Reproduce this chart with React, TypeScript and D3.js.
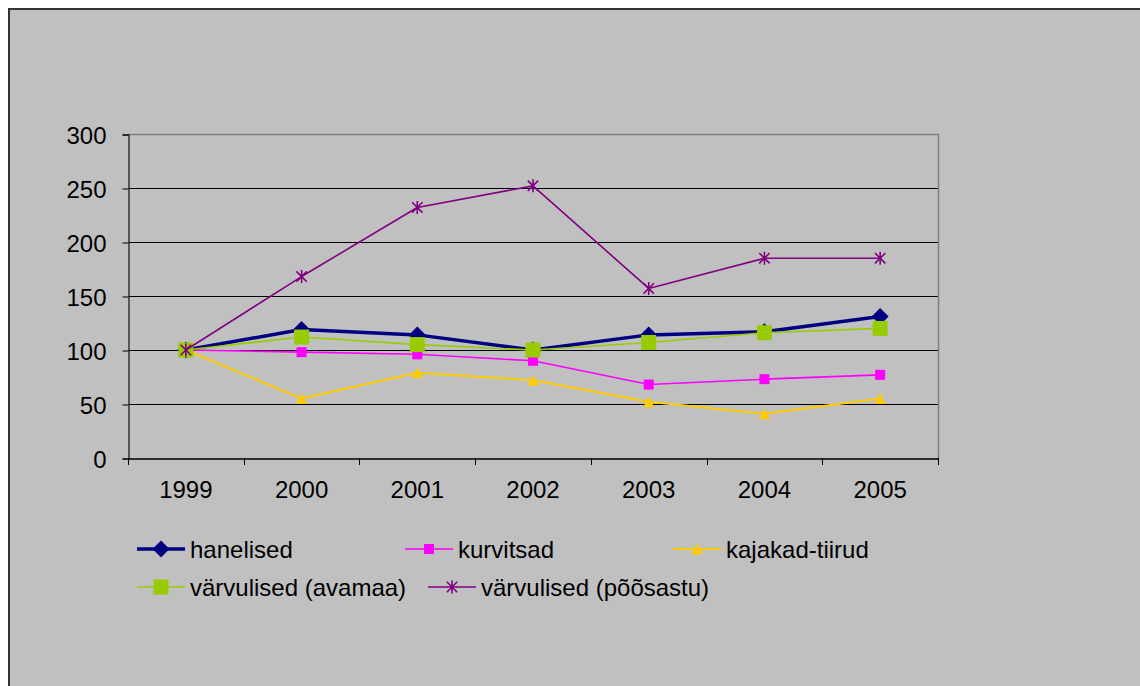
import { useEffect, useRef } from "react";
import * as d3 from "d3";

// years on the x axis
const years = ["1999", "2000", "2001", "2002", "2003", "2004", "2005"];
const yTicks = [0, 50, 100, 150, 200, 250, 300];

// index values, 1999 = 100
const hanelised = [100, 119, 114, 100, 114, 117, 131];
const kurvitsad = [100, 98, 96, 90, 68, 73, 77];
const kajakadTiirud = [100, 55, 79, 72, 52, 41, 55];
const varvulisedAvamaa = [100, 112, 105, 100, 107, 116, 120];
const varvulisedPoosastu = [100, 168, 232, 252, 157, 185, 185];

type MarkerKind = "diamond" | "square" | "triangle" | "bigsquare" | "star";

interface Series {
  name: string;
  values: number[];
  color: string;
  width: number;
  marker: MarkerKind;
}

const series: Series[] = [
  { name: "hanelised", values: hanelised, color: "#000080", width: 3.5, marker: "diamond" },
  { name: "kurvitsad", values: kurvitsad, color: "#FF00FF", width: 1.6, marker: "square" },
  { name: "kajakad-tiirud", values: kajakadTiirud, color: "#FFCC00", width: 2, marker: "triangle" },
  { name: "värvulised (avamaa)", values: varvulisedAvamaa, color: "#99CC00", width: 1.6, marker: "bigsquare" },
  { name: "värvulised (põõsastu)", values: varvulisedPoosastu, color: "#800080", width: 1.6, marker: "star" },
];

// legend slot positions (layout only)
const legendPos: [number, number][] = [
  [137, 549],
  [405, 549],
  [673, 549],
  [137, 587],
  [428, 587],
];

const W = 1140;
const H = 686;
const FONT = "'Liberation Sans', Arial, sans-serif";

function drawMarker(
  g: d3.Selection<SVGGElement, unknown, null, undefined>,
  kind: MarkerKind,
  cx: number,
  cy: number,
  color: string,
  scale = 1,
) {
  if (kind === "diamond") {
    const r = 8.5 * scale;
    g.append("path")
      .attr("d", `M${cx},${cy - r}L${cx + r},${cy}L${cx},${cy + r}L${cx - r},${cy}Z`)
      .attr("fill", color);
  } else if (kind === "square" || kind === "bigsquare") {
    const s = (kind === "square" ? 10 : 15) * scale;
    g.append("rect")
      .attr("x", cx - s / 2)
      .attr("y", cy - s / 2)
      .attr("width", s)
      .attr("height", s)
      .attr("fill", color);
  } else if (kind === "triangle") {
    const w = 11 * scale;
    const h = 11 * scale;
    g.append("path")
      .attr("d", `M${cx},${cy - h / 2}L${cx + w / 2},${cy + h / 2}L${cx - w / 2},${cy + h / 2}Z`)
      .attr("fill", color);
  } else {
    const r = 6.5 * scale;
    const d = r * 0.8;
    g.append("path")
      .attr("d", `M${cx - d},${cy - d}L${cx + d},${cy + d}M${cx - d},${cy + d}L${cx + d},${cy - d}M${cx},${cy - r}L${cx},${cy + r}`)
      .attr("stroke", color)
      .attr("stroke-width", 1.6)
      .attr("fill", "none");
  }
}

export default function App() {
  const svgRef = useRef<SVGSVGElement>(null);

  useEffect(() => {
    if (!svgRef.current) return;
    const svg = d3.select(svgRef.current);
    svg.selectAll("*").remove();

    // chart frame, runs off the right and bottom of the page
    svg.append("rect").attr("width", W).attr("height", H).attr("fill", "#fff");
    svg
      .append("rect")
      .attr("x", 9)
      .attr("y", 9)
      .attr("width", W + 20)
      .attr("height", H + 20)
      .attr("fill", "#C0C0C0")
      .attr("stroke", "#333")
      .attr("stroke-width", 2);

    const left = 128;
    const right = 938;
    const top = 134;
    const bottom = 458;

    const x = d3.scaleBand().domain(years).range([left, right]);
    const y = d3.scaleLinear().domain([0, 300]).range([bottom, top]);

    const g = svg.append("g");

    // grid lines
    g.selectAll(".grid")
      .data(yTicks.filter((t) => t > 0))
      .enter()
      .append("line")
      .attr("x1", left)
      .attr("x2", right)
      .attr("y1", (d) => Math.round(y(d)) + 0.5)
      .attr("y2", (d) => Math.round(y(d)) + 0.5)
      .attr("stroke", "#000")
      .attr("stroke-width", 1);

    // plot area border (top and right)
    g.append("path")
      .attr("d", `M${left},${top + 0.5}H${right + 0.5}V${bottom}`)
      .attr("fill", "none")
      .attr("stroke", "#808080")
      .attr("stroke-width", 1.5);

    // y axis
    const yAxis = g
      .append("g")
      .attr("transform", `translate(${left + 0.5},0.5)`)
      .call(d3.axisLeft(y).tickValues(yTicks).tickSize(6).tickPadding(16).tickFormat(d3.format("d")));
    yAxis.select(".domain").attr("stroke", "#333").attr("stroke-width", 1.5);
    yAxis.selectAll(".tick line").attr("stroke", "#000");
    yAxis
      .selectAll("text")
      .attr("font-size", 24)
      .attr("font-family", FONT)
      .attr("fill", "#000")
      .attr("dy", "0.36em");

    // x axis
    const xAxis = g
      .append("g")
      .attr("transform", `translate(0,${bottom + 0.5})`)
      .call(d3.axisBottom(x).tickSize(0).tickPadding(22));
    xAxis.select(".domain").attr("stroke", "#000").attr("stroke-width", 1.5);
    xAxis
      .selectAll("text")
      .attr("font-size", 24)
      .attr("font-family", FONT)
      .attr("fill", "#000");
    // ticks at the band edges
    const edges = years.map((yr) => x(yr) ?? 0).concat([right]);
    g.selectAll(".xtick")
      .data(edges)
      .enter()
      .append("line")
      .attr("x1", (d) => Math.round(d) + 0.5)
      .attr("x2", (d) => Math.round(d) + 0.5)
      .attr("y1", bottom)
      .attr("y2", bottom + 7)
      .attr("stroke", "#000");

    const cx = (i: number) => (x(years[i]) ?? 0) + x.bandwidth() / 2;

    // series lines and markers
    series.forEach((s) => {
      const line = d3
        .line<number>()
        .x((_, i) => cx(i))
        .y((d) => y(d));
      const sg = g.append("g");
      sg.append("path")
        .attr("d", line(s.values))
        .attr("fill", "none")
        .attr("stroke", s.color)
        .attr("stroke-width", s.width)
        .attr("stroke-linejoin", "round");
      s.values.forEach((v, i) => drawMarker(sg, s.marker, cx(i), y(v), s.color));
    });

    // legend
    const lg = svg.append("g");
    series.forEach((s, i) => {
      const [lx, ly] = legendPos[i];
      const ig = lg.append("g");
      ig.append("line")
        .attr("x1", lx)
        .attr("x2", lx + 48)
        .attr("y1", ly)
        .attr("y2", ly)
        .attr("stroke", s.color)
        .attr("stroke-width", s.width);
      drawMarker(ig, s.marker, lx + 24, ly, s.color);
      ig.append("text")
        .attr("x", lx + 53)
        .attr("y", ly)
        .attr("dy", "0.36em")
        .attr("font-size", 24)
        .attr("font-family", FONT)
        .attr("fill", "#000")
        .text(s.name);
    });
  }, []);

  return (
    <svg
      ref={svgRef}
      width={W}
      height={H}
      style={{ position: "fixed", left: 0, top: 0, display: "block" }}
    />
  );
}
